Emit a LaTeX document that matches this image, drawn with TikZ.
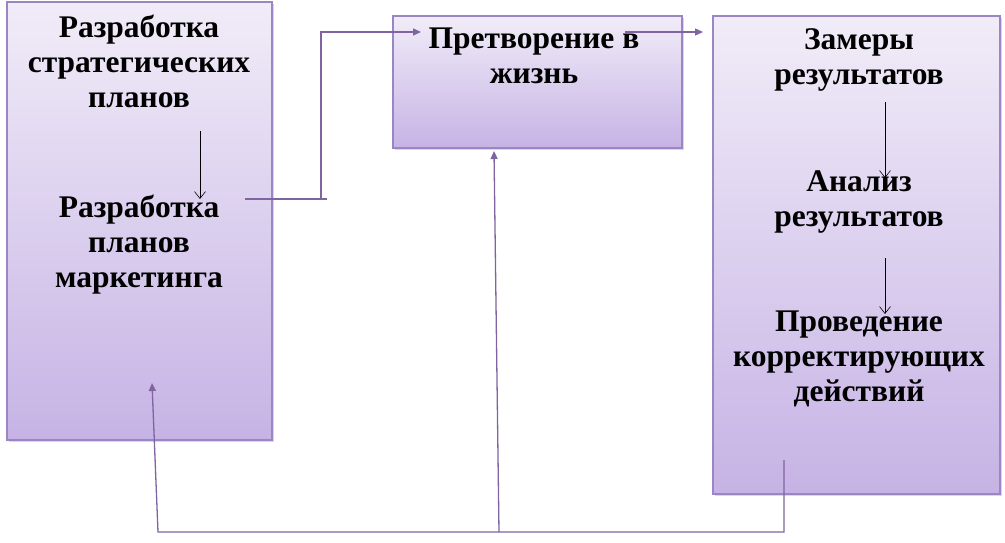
\documentclass[tikz,border=0pt]{standalone}
\usepackage{fontspec}
\setmainfont{Liberation Serif}
\usetikzlibrary{arrows.meta,shadows}
\definecolor{boxline}{HTML}{9B86C4}
\definecolor{linkc}{HTML}{8064A2}
\definecolor{topc}{HTML}{F1ECF8}
\definecolor{botc}{HTML}{C6B3E5}
\begin{document}
\begin{tikzpicture}[x=1pt,y=-1pt,
  panel/.style={draw=boxline, line width=1.3pt, top color=topc, bottom color=botc,
    inner sep=0pt, outer sep=0pt,
    drop shadow={shadow xshift=1.5pt, shadow yshift=-2pt, opacity=0.3, fill=gray}},
  lbl/.style={font=\bfseries\fontsize{31.5}{35}\selectfont, align=center, inner sep=0pt},
  link/.style={draw=linkc, line width=1.3pt},
  linkarrow/.style={link, -{Triangle[length=8pt,width=7pt]}},
  innerarrow/.style={draw=black, line width=0.6pt, -{Straight Barb[length=7pt,width=11pt]}}
]
\useasboundingbox (0,0) rectangle (1005,543);
% boxes
\node[panel, minimum width=265pt, minimum height=438pt] (left) at (139.5,221) {};
\node[panel, minimum width=289pt, minimum height=132pt] (mid) at (537.5,82) {};
\node[panel, minimum width=287pt, minimum height=478pt] (right) at (856.5,255) {};
% texts
\node[lbl] (t1) at (139,61) {Разработка\\стратегических\\планов};
\node[lbl] (t2) at (139,245) {Разработка\\планов\\маркетинга};
\node[lbl] (t3) at (534,56) {Претворение в\\жизнь};
\node[lbl] (t4) at (859,60) {Замеры\\результатов};
\node[lbl] (t5) at (859,202) {Анализ\\результатов};
\node[lbl] (t6) at (859,359) {Проведение\\корректирующих\\действий};
% free ends
\coordinate (a1s) at (200,131);
\coordinate (a1e) at (200,199);
\coordinate (a2s) at (885,102);
\coordinate (a2e) at (885,178);
\coordinate (a3s) at (885,258);
\coordinate (a3e) at (885,314);
\coordinate (c1s) at (245,199);
\coordinate (c1x) at (327,199);
\coordinate (c1k) at (321,199);
\coordinate (c1e) at (421,32);
\coordinate (c2s) at (625,32);
\coordinate (c2e) at (703,32);
\coordinate (f0) at (784,460);
\coordinate (f1) at (784,532);
\coordinate (f2) at (158,532);
\coordinate (f3) at (152,383);
\coordinate (m0) at (499,532);
\coordinate (m1) at (494,151);
% inner arrows
\draw[innerarrow] (a1s) -- (a1e);
\draw[innerarrow] (a2s) -- (a2e);
\draw[innerarrow] (a3s) -- (a3e);
% connectors
\draw[link] (c1s) -- (c1x);
\draw[linkarrow] (c1k) |- (c1e);
\draw[linkarrow] (c2s) -- (c2e);
\draw[linkarrow] (f0) -- (f1) -- (f2) -- (f3);
\draw[linkarrow] (m0) -- (m1);
\end{tikzpicture}
\end{document}
